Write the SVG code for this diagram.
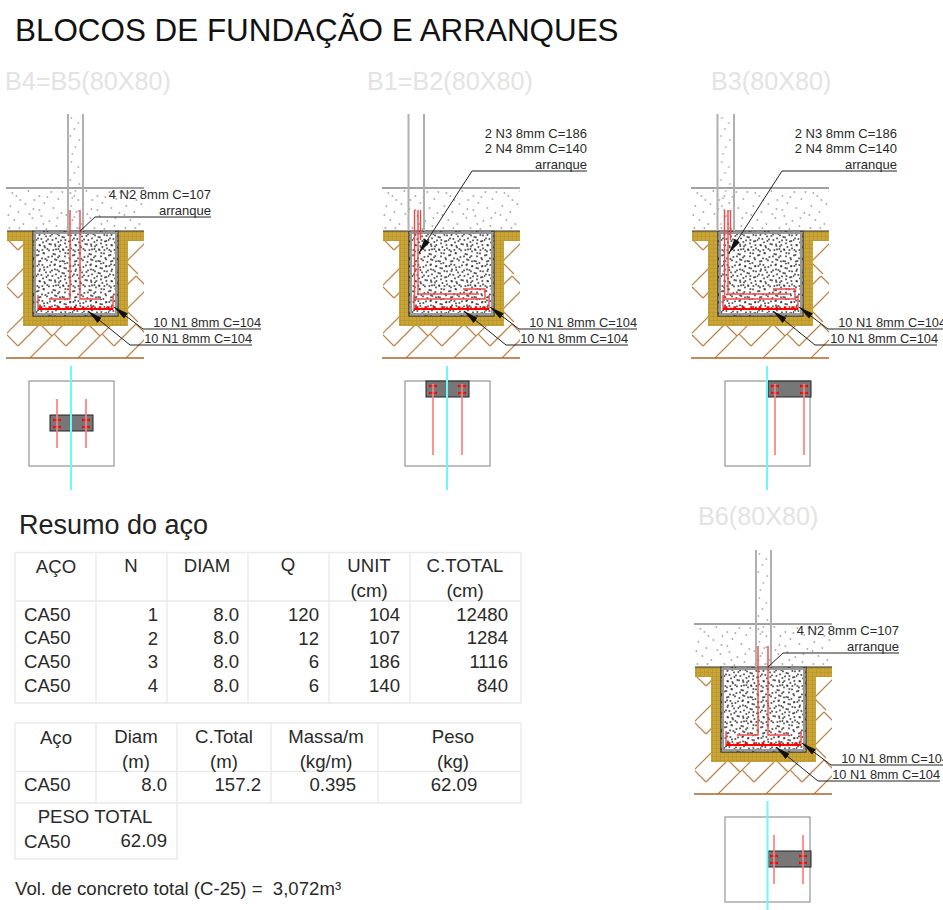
<svg xmlns="http://www.w3.org/2000/svg" xmlns:xlink="http://www.w3.org/1999/xlink" width="943" height="910" viewBox="0 0 943 910">
<style>
text{font-family:"Liberation Sans",Arial,sans-serif;fill:#2a2a2a}
.title{font-size:31.4px;fill:#111}
.sub{font-size:25.200px;fill:#e3e3e3}
.res{font-size:27px;fill:#222}
.lab{font-size:12.8px;text-anchor:end}
.up{font-size:13px}
.t{font-size:18.6px}
.m{text-anchor:middle}
.e{text-anchor:end}
.grid{fill:none;stroke:#e9e9e9;stroke-width:1.3}
.ld{fill:none;stroke:#222;stroke-width:1}
.red{fill:none;stroke:#f04848;stroke-width:1.4}
.col{stroke:#b0b0b0;stroke-width:2;fill:none}
.cy{stroke:#6ff8f8;stroke-width:2}
.pl{fill:#fff;stroke:#aaa;stroke-width:1.5}
.pr{stroke:#ff8080;stroke-width:1.7}
.gy{fill:#777;stroke:#222;stroke-width:1}
</style>
<defs>
<pattern id="conc" width="36" height="36" patternUnits="userSpaceOnUse">
<path fill="none" stroke="#333" stroke-width="1.3" stroke-linecap="round" d="M2 3h.8M7 1h.8M12 5h.8M17 2h.8M23 4h.8M29 1h.8M33 6h.8M4 9h.8M9 7h.8M15 10h.8M20 8h.8M26 9h.8M31 11h.8M1 14h.8M6 13h.8M11 15h.8M18 13h.8M24 14h.8M28 16h.8M34 14h.8M3 19h.8M8 18h.8M14 20h.8M21 18h.8M26 21h.8M32 19h.8M0 24h.8M5 23h.8M10 25h.8M16 24h.8M22 26h.8M29 24h.8M34 25h.8M3 29h.8M8 30h.8M13 28h.8M19 30h.8M24 29h.8M30 31h.8M34 29h.8M1 34h.8M6 34h.8M11 33h.8M17 34h.8M22 33h.8M27 34h.8M32 34h.8"/>
</pattern>
<pattern id="conc2" href="#conc" xlink:href="#conc" patternTransform="translate(17 11) rotate(90)"/>
<pattern id="soil" width="58" height="43" patternUnits="userSpaceOnUse" patternTransform="translate(6 188)">
<path fill="none" stroke="#666" stroke-width="1" stroke-linecap="round" d="M6 5h.8M14 12h.8M22 3h.8M33 8h.8M45 4h.8M52 11h.8M4 18h.8M12 24h.8M19 16h.8M27 21h.8M38 15h.8M47 20h.8M55 25h.8M8 32h.8M17 36h.8M26 30h.8M35 28h.8M43 33h.8M50 38h.8M3 40h.8M30 40h.8M40 41h.8M10 8h.8M28 12h.8M41 9h.8M56 4h.8M2 27h.8M23 26h.8M33 22h.8M51 30h.8M13 40h.8M37 36h.8"/>
</pattern>
<pattern id="colst" width="16" height="44" patternUnits="userSpaceOnUse">
<path fill="none" stroke="#777" stroke-width="1" stroke-linecap="round" d="M4 4h.8M11 9h.8M7 15h.8M3 22h.8M12 26h.8M8 33h.8M5 40h.8"/>
</pattern>
<pattern id="yel" width="4" height="4" patternUnits="userSpaceOnUse">
<rect width="4" height="4" fill="#c9a437"/><path d="M0 0h4v.8h-4zM0 0h.8v4h-.8z" fill="#bb962c"/>
</pattern>
<pattern id="hat" width="48" height="48" patternUnits="userSpaceOnUse" patternTransform="translate(6 310)">
<path fill="none" stroke="#bb8247" stroke-width="1.2" d="M0 24L24 0M12 36L34 14M24 48L48 24M0 24L12 36M24 0L36 12M34 14L46 26"/>
</pattern>
<marker id="ah" markerUnits="userSpaceOnUse" markerWidth="16" markerHeight="8" refX="15" refY="4" orient="auto"><path d="M0 .8L15 4L0 7.200z" fill="#111"/></marker>
<g id="fnd">
<rect x="6" y="188" width="138" height="43" fill="url(#soil)"/>
<path d="M6 188H144" stroke="#444" fill="none"/>
<rect x="7" y="241" width="137" height="117" fill="url(#hat)"/>
<path d="M7 231H144V241H128V326H23V241H7z" fill="url(#yel)"/>
<rect x="33" y="231" width="85" height="85" fill="#fff"/>
<rect x="33" y="231" width="85" height="85" fill="url(#conc)"/>
<rect x="33" y="231" width="85" height="85" fill="url(#conc2)"/>
<path d="M35 233H116V314H35z" fill="none" stroke="#999" stroke-width="2"/>
<rect x="33" y="231" width="85" height="85" fill="none" stroke="#222" stroke-width="1.1"/>
<path d="M7 231H33M118 231H144" stroke="#333" fill="none" stroke-width="1"/>
<path d="M6 358H144" stroke="#a8642c" stroke-width="1.3" fill="none"/>
<path d="M38 295V309H113V295" class="red"/>
<path d="M38 309H113" stroke="#f00" stroke-width="1.800" fill="none"/>
<path d="M40 307.500H113" stroke="#f00" stroke-width="2.500" stroke-dasharray="2.500 5.900" fill="none"/>
</g>
<g id="ldN1" class="ld">
<path d="M261 329H143L114 307" marker-end="url(#ah)"/>
<path d="M252 345H130L88 311" marker-end="url(#ah)"/>
</g>
<g id="n2">
<path d="M70 210V299H49M80 210V299H101" class="red"/>
<path d="M211 217H95L80 231" class="ld"/>
</g>
<g id="n34">
<path d="M414.500 210V299H485V289H463M418 210V294H479M420.500 210V240" class="red"/>
<path d="M587 171H472L419 253" class="ld" marker-end="url(#ah)"/>
</g>
<g id="stub"><rect x="0" y="0" width="16" height="117" fill="url(#colst)"/></g>
<path id="ticks" d="M0 0l-4 -1.500v3zM0 0l4 -1.500v3zM29 0l-4 -1.500v3zM29 0l4 -1.500v3zM0 7l-4 -1.500v3zM0 7l4 -1.500v3zM29 7l-4 -1.500v3zM29 7l4 -1.500v3z" fill="#f00"/>
</defs>
<rect width="943" height="910" fill="#fff"/>

<text class="title" x="15" y="41">BLOCOS DE FUNDAÇÃO E ARRANQUES</text>

<g id="B4-B5">
<text class="sub" x="5" y="90">B4=B5(80X80)</text>
<use xlink:href="#fnd" href="#fnd"/>
<use href="#stub" xlink:href="#stub" x="67" y="114"/>
<path class="col" d="M68 114V231M83 114V231"/>
<use href="#n2" xlink:href="#n2"/>
<use href="#ldN1" xlink:href="#ldN1"/>
<text class="lab up" x="211" y="199">4 N2 8mm C=107</text>
<text class="lab up" x="211" y="215">arranque</text>
<text class="lab" x="261" y="327">10 N1 8mm C=104</text>
<text class="lab" x="252" y="343">10 N1 8mm C=104</text>
<rect class="pl" x="29" y="381" width="85" height="85"/>
<rect class="gy" x="50" y="415" width="43" height="16"/>
<path class="pr" d="M57 399V448M86 399V448"/>
<use href="#ticks" xlink:href="#ticks" x="57" y="420"/>
<path class="cy" d="M71 366V490"/>
</g>

<g id="B1-B2">
<text class="sub" x="367" y="90">B1=B2(80X80)</text>
<use href="#fnd" xlink:href="#fnd" x="376"/>
<path class="col" d="M408.500 114V231M424 114V231"/>
<use href="#n34" xlink:href="#n34"/>
<use href="#ldN1" xlink:href="#ldN1" x="376"/>
<text class="lab up" x="587" y="138">2 N3 8mm C=186</text>
<text class="lab up" x="587" y="153">2 N4 8mm C=140</text>
<text class="lab up" x="587" y="169">arranque</text>
<text class="lab" x="637" y="327">10 N1 8mm C=104</text>
<text class="lab" x="628" y="343">10 N1 8mm C=104</text>
<rect class="pl" x="405" y="381" width="85" height="85"/>
<rect class="gy" x="426" y="381" width="43" height="16"/>
<path class="pr" d="M433 384V455M462 384V455"/>
<use href="#ticks" xlink:href="#ticks" x="433" y="386"/>
<path class="cy" d="M447 366V490"/>
</g>

<g id="B3">
<text class="sub" x="711" y="90">B3(80X80)</text>
<use href="#fnd" xlink:href="#fnd" x="685"/>
<use href="#stub" xlink:href="#stub" x="717.500" y="114"/>
<path class="col" d="M717.500 114V231M734 114V231"/>
<use href="#n34" xlink:href="#n34" x="310"/>
<use href="#ldN1" xlink:href="#ldN1" x="685"/>
<text class="lab up" x="897" y="138">2 N3 8mm C=186</text>
<text class="lab up" x="897" y="153">2 N4 8mm C=140</text>
<text class="lab up" x="897" y="169">arranque</text>
<text class="lab" x="946" y="327">10 N1 8mm C=104</text>
<text class="lab" x="938" y="343">10 N1 8mm C=104</text>
<rect class="pl" x="725" y="381" width="85" height="85"/>
<rect class="gy" x="768" y="381" width="43" height="16"/>
<path class="pr" d="M775 384V455M804 384V455"/>
<use href="#ticks" xlink:href="#ticks" x="775" y="386"/>
<path class="cy" d="M767 366V490"/>
</g>

<g id="B6">
<text class="sub" x="698" y="525">B6(80X80)</text>
<g transform="translate(688 436)">
<use href="#fnd" xlink:href="#fnd"/>
<use href="#stub" xlink:href="#stub" x="67" y="114"/>
<path class="col" d="M68 114V231M83 114V231"/>
<use href="#n2" xlink:href="#n2"/>
<use href="#ldN1" xlink:href="#ldN1"/>
</g>
<text class="lab up" x="899" y="635">4 N2 8mm C=107</text>
<text class="lab up" x="899" y="651">arranque</text>
<text class="lab" x="949" y="763">10 N1 8mm C=104</text>
<text class="lab" x="940" y="779">10 N1 8mm C=104</text>
<rect class="pl" x="725" y="817" width="85" height="85"/>
<rect class="gy" x="768" y="851" width="43" height="16"/>
<path class="pr" d="M774 835V884M803 835V884"/>
<use href="#ticks" xlink:href="#ticks" x="774" y="856"/>
<path class="cy" d="M767.500 801V910"/>
</g>

<text class="res" x="19" y="534">Resumo do aço</text>

<g id="tabela1">
<path class="grid" d="M15 552.500H521V703H15zM15 601H521M96 552.500V703M167 552.500V703M248 552.500V703M329 552.500V703M410 552.500V703"/>
<g class="t">
<text class="m" x="56" y="573">AÇO</text><text class="m" x="131" y="572">N</text><text class="m" x="207" y="572">DIAM</text><text class="m" x="288" y="571">Q</text><text class="m" x="369" y="572">UNIT</text><text class="m" x="465" y="572">C.TOTAL</text>
<text class="m" x="369" y="597">(cm)</text><text class="m" x="465" y="597">(cm)</text>
<text x="24" y="621">CA50</text><text class="e" x="158" y="621">1</text><text class="e" x="239" y="621">8.0</text><text class="e" x="319" y="621">120</text><text class="e" x="400" y="621">104</text><text class="e" x="508" y="621">12480</text>
<text x="24" y="644">CA50</text><text class="e" x="158" y="645">2</text><text class="e" x="239" y="644">8.0</text><text class="e" x="319" y="645">12</text><text class="e" x="400" y="644">107</text><text class="e" x="508" y="644">1284</text>
<text x="24" y="668">CA50</text><text class="e" x="158" y="668">3</text><text class="e" x="239" y="668">8.0</text><text class="e" x="319" y="668">6</text><text class="e" x="400" y="668">186</text><text class="e" x="508" y="668">1116</text>
<text x="24" y="692">CA50</text><text class="e" x="158" y="692">4</text><text class="e" x="239" y="692">8.0</text><text class="e" x="319" y="692">6</text><text class="e" x="400" y="692">140</text><text class="e" x="508" y="692">840</text>
</g>
</g>

<g id="tabela2">
<path class="grid" d="M15 723H521V803H15zM15 771.500H521M96 723V803M177 723V859M271 723V803M378 723V803M15 803V859H177"/>
<g class="t">
<text class="m" x="56" y="744">Aço</text><text class="m" x="136" y="743">Diam</text><text class="m" x="224" y="743">C.Total</text><text class="m" x="326" y="743">Massa/m</text><text class="m" x="453" y="743">Peso</text>
<text class="m" x="136" y="768">(m)</text><text class="m" x="224" y="768">(m)</text><text class="m" x="326" y="768">(kg/m)</text><text class="m" x="453" y="768">(kg)</text>
<text x="24" y="791">CA50</text><text class="e" x="167" y="791">8.0</text><text class="e" x="261" y="791">157.2</text><text class="e" x="356" y="791">0.395</text><text class="m" x="454" y="791">62.09</text>
<text class="m" x="95" y="823">PESO TOTAL</text>
<text x="24" y="848">CA50</text><text class="e" x="167" y="847">62.09</text>
</g>
</g>

<text x="15" y="895" xml:space="preserve" style="font-size:18.6px;white-space:pre">Vol. de concreto total (C-25) =  3,072m³</text>
</svg>
